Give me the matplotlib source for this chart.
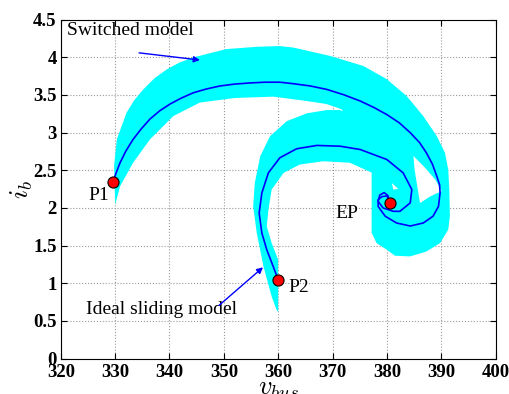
import matplotlib
matplotlib.use("Agg")
import matplotlib.pyplot as plt

plt.rcParams['mathtext.fontset'] = 'cm'

# ideal sliding model trajectories (v_bus, i_b)
p1_v = [329.6, 330.2, 330.9, 332.0, 333.3, 334.8, 336.4, 338.2, 340.1, 342.2, 344.4,
        346.8, 349.3, 352.0, 354.8, 357.6, 360.3, 362.8, 365.9, 368.9, 372.0,
        375.1, 377.6, 380.0, 382.3, 384.3, 386.0, 387.3, 388.4, 389.2, 389.7, 389.8,
        389.5, 388.5, 386.7, 384.3, 381.8, 379.7, 378.4, 378.4, 379.1, 380.0, 380.6]
p1_i = [2.34, 2.47, 2.60, 2.76, 2.91, 3.05, 3.18, 3.29, 3.38, 3.46, 3.53,
        3.58, 3.62, 3.645, 3.66, 3.67, 3.67, 3.65, 3.62, 3.575, 3.505,
        3.42, 3.335, 3.24, 3.13, 3.00, 2.87, 2.73, 2.58, 2.42, 2.31, 2.20,
        2.02, 1.89, 1.80, 1.76, 1.80, 1.89, 2.02, 2.11, 2.15, 2.16, 2.07]

p2_v = [360.0, 359.1, 357.9, 357.0, 356.5, 357.0, 358.2, 360.3, 363.4, 367.1, 371.4,
        375.1, 380.0, 383.0, 384.6, 384.3, 382.4, 381.2, 379.3, 378.4, 378.7, 379.5,
        380.2, 380.6]
p2_i = [1.045, 1.22, 1.445, 1.667, 1.933, 2.20, 2.466, 2.666, 2.786, 2.83, 2.82,
        2.776, 2.643, 2.466, 2.244, 2.067, 1.955, 1.955, 2.00, 2.088, 2.17, 2.204,
        2.164, 2.07]

# switched model envelope (outline of the cyan region)
band_v = [330.0, 329.8, 330.3, 332.1, 333.5, 335.2, 337.2, 339.5, 341.8, 344.4, 350.5,
          356.05, 360.3, 362.8,
          369.5, 375.7, 380.0, 383.65, 386.7, 389.2, 390.7, 391.3, 391.5, 391.6, 391.3,
          389.8, 387.3, 384.3, 381.5, 380.0, 378.1, 377.2, 377.2,
          373.2, 368.3, 364.0, 361.0, 358.8, 358.2, 357.9, 358.8, 360.0,
          360.0, 359.7, 358.8, 357.3, 356.05,
          355.4, 355.7, 356.7, 358.5, 361.6, 365.25, 368.9, 371.4, 371.9,
          371.7, 368.9, 365.25, 359.1, 352.0, 345.6, 340.7, 336.4, 333.3, 330.9]
band_i = [2.044, 2.554, 2.91, 3.265, 3.43, 3.575, 3.72, 3.84, 3.93, 4.00, 4.11,
          4.14, 4.15, 4.13,
          4.02, 3.885, 3.71, 3.486, 3.22, 2.953, 2.732, 2.51, 2.24, 1.888, 1.711,
          1.534, 1.422, 1.356, 1.365, 1.445, 1.534, 1.671, 2.47,
          2.60, 2.62, 2.577, 2.466, 2.244, 1.977, 1.755, 1.534, 1.312,
          0.62, 0.646, 0.823, 1.222, 1.671,
          2.02, 2.333, 2.687, 2.953, 3.153, 3.256, 3.30, 3.30, 3.282,
          3.31, 3.38, 3.42, 3.478, 3.46, 3.40, 3.22, 2.91, 2.60, 2.288]

hole1_v = [384.9, 387.0, 388.9, 390.1, 387.9, 386.1, 385.55, 385.1]
hole1_i = [2.69, 2.537, 2.377, 2.224, 2.15, 2.064, 2.31, 2.51]
hole2_v = [380.9, 382.1, 381.2]
hole2_i = [2.333, 2.253, 2.244]

points_v = [329.6, 360.0, 380.6]
points_i = [2.34, 1.045, 2.07]

fig = plt.figure(figsize=(5.09, 3.94), dpi=100)
ax = fig.add_axes([0.1195, 0.090, 0.854, 0.860])

ax.fill(band_v, band_i, color='cyan', lw=0, zorder=1)
ax.fill(hole1_v, hole1_i, color='white', lw=0, zorder=1.1)
ax.fill(hole2_v, hole2_i, color='white', lw=0, zorder=1.1)

ax.plot(p1_v, p1_i, color='blue', lw=1.2, zorder=2)
ax.plot(p2_v, p2_i, color='blue', lw=1.2, zorder=2)
ax.plot(points_v, points_i, 'o', color='red', mec='black', mew=0.8, ms=8, zorder=3)

serif = 'Liberation Serif'
ax.text(321.1, 4.36, 'Switched model', fontsize=14, family=serif, va='center', ha='left')
ax.text(324.6, 0.646, 'Ideal sliding model', fontsize=14, family=serif, va='center', ha='left')
ax.text(325.0, 2.16, 'P1', fontsize=14, family=serif, va='center', ha='left')
ax.text(361.9, 0.945, 'P2', fontsize=14, family=serif, va='center', ha='left')
ax.text(370.5, 1.924, 'EP', fontsize=14, family=serif, va='center', ha='left')

arrow = dict(arrowstyle='-|>', color='blue', lw=1, mutation_scale=9)
ax.annotate('', xy=(346.1, 3.96), xytext=(333.9, 4.064), arrowprops=arrow)
ax.annotate('', xy=(357.6, 1.236), xytext=(348.7, 0.68), arrowprops=arrow)

ax.set_xlim(320, 400)
ax.set_ylim(0, 4.5)
ax.set_xticks(range(320, 401, 10))
ax.set_yticks([0, 0.5, 1, 1.5, 2, 2.5, 3, 3.5, 4, 4.5])
ax.set_yticklabels(['0', '0.5', '1', '1.5', '2', '2.5', '3', '3.5', '4', '4.5'])
ax.tick_params(direction='in', top=True, right=True, length=4)
ax.tick_params(axis='x', pad=4)
ax.tick_params(axis='y', pad=3)
for lab in ax.get_xticklabels() + ax.get_yticklabels():
    lab.set_family(serif)
    lab.set_weight('bold')
    lab.set_fontsize(13.5)
ax.grid(True, linestyle=':', color='0.6', lw=0.8)
ax.set_axisbelow(True)

ax.set_xlabel('$v_{bus}$', fontsize=19)
ax.xaxis.set_label_coords(0.5, -0.05)
ax.set_ylabel('$i_b$', fontsize=19)
ax.yaxis.set_label_coords(-0.06, 0.5)

fig.savefig('out.png', dpi=100)
